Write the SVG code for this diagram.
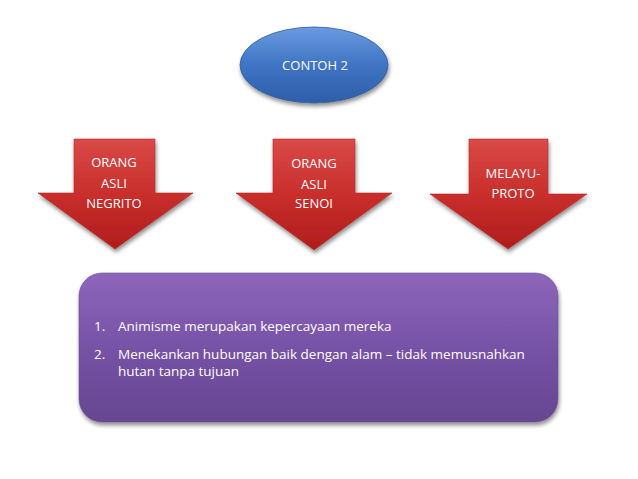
<svg xmlns="http://www.w3.org/2000/svg" width="638" height="479" viewBox="0 0 638 479">
  <defs>
    <linearGradient id="gBlue" x1="0" y1="0" x2="0" y2="1">
      <stop offset="0" stop-color="#6a9be0"/>
      <stop offset="0.5" stop-color="#3f74c4"/>
      <stop offset="1" stop-color="#2d5ea8"/>
    </linearGradient>
    <linearGradient id="gRed" x1="0" y1="0" x2="0" y2="1">
      <stop offset="0" stop-color="#d94a47"/>
      <stop offset="0.5" stop-color="#c92e2c"/>
      <stop offset="1" stop-color="#b01d1c"/>
    </linearGradient>
    <linearGradient id="gPurple" x1="0" y1="0" x2="0" y2="1">
      <stop offset="0" stop-color="#8d66bb"/>
      <stop offset="0.5" stop-color="#7752a6"/>
      <stop offset="1" stop-color="#664691"/>
    </linearGradient>
    <filter id="shadow" x="-10%" y="-10%" width="120%" height="130%">
      <feGaussianBlur in="SourceAlpha" stdDeviation="2"/>
      <feOffset dx="1" dy="3" result="b"/>
      <feComponentTransfer><feFuncA type="linear" slope="0.45"/></feComponentTransfer>
      <feMerge><feMergeNode/><feMergeNode in="SourceGraphic"/></feMerge>
    </filter>
    <style>
      .lbl { font-family: "Open Sans", "Liberation Sans", sans-serif; font-size: 13px; fill: #ffffff; text-anchor: middle; }
      .body { font-family: "Open Sans", "Liberation Sans", sans-serif; font-size: 13.5px; fill: #ffffff; }
      .arrow { fill: url(#gRed); stroke: #b52a28; stroke-width: 0.6; filter: url(#shadow); }
    </style>
  </defs>
  <rect width="638" height="479" fill="#ffffff"/>

  <g id="contoh2">
    <ellipse cx="314" cy="65" rx="74" ry="38" fill="url(#gBlue)" stroke="#2f5c9e" stroke-width="0.8" filter="url(#shadow)"/>
    <text class="lbl" x="315" y="70">CONTOH 2</text>
  </g>

  <g id="negrito">
    <path class="arrow" d="M74,139 H155 V193 H193 L115,249 L38,193 H74 Z"/>
    <text class="lbl" x="114" y="167">ORANG</text>
    <text class="lbl" x="114" y="188">ASLI</text>
    <text class="lbl" x="114" y="208">NEGRITO</text>
  </g>

  <g id="senoi">
    <path class="arrow" d="M273,139 H355 V193 H392 L314,250 L236,193 H273 Z"/>
    <text class="lbl" x="314" y="168">ORANG</text>
    <text class="lbl" x="314" y="189">ASLI</text>
    <text class="lbl" x="314" y="208">SENOI</text>
  </g>

  <g id="melayu-proto">
    <path class="arrow" d="M469,139 H548 V194 H587 L508,249 L430,194 H469 Z"/>
    <text class="lbl" x="513" y="178">MELAYU-</text>
    <text class="lbl" x="513" y="198">PROTO</text>
  </g>

  <g id="description">
    <rect x="79" y="273" width="479" height="149" rx="23" ry="23" fill="url(#gPurple)" stroke="#6c4d96" stroke-width="0.6" filter="url(#shadow)"/>
    <text class="body" x="94" y="331">1.</text>
    <text class="body" x="118" y="331">Animisme merupakan kepercayaan mereka</text>
    <text class="body" x="94" y="359">2.</text>
    <text class="body" x="118" y="359">Menekankan hubungan baik dengan alam – tidak memusnahkan</text>
    <text class="body" x="118" y="376">hutan tanpa tujuan</text>
  </g>

  <g id="connectors"/>
</svg>
